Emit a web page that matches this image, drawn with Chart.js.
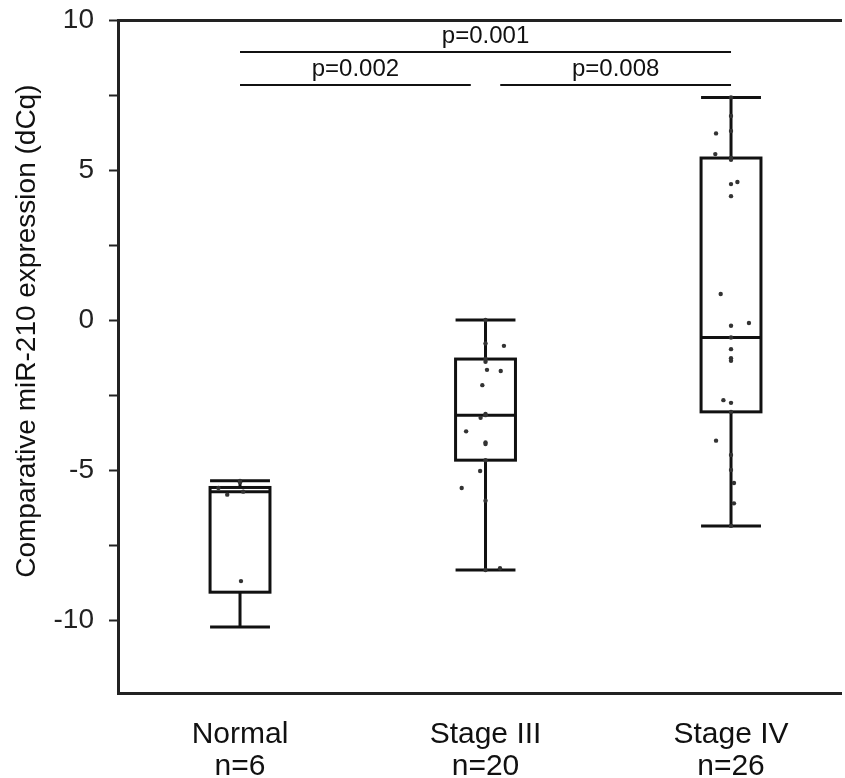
<!DOCTYPE html>
<html>
<head>
<meta charset="utf-8">
<script src="https://cdn.jsdelivr.net/npm/chart.js@4.4.1/dist/chart.umd.min.js"></script>
<style>
  html, body { margin: 0; padding: 0; background: #fff; }
  #wrap { width: 845px; height: 778px; }
</style>
</head>
<body>
<div id="wrap"><canvas id="boxChart" width="845" height="778"></canvas></div>
<script>
// categories and box statistics
const groups = ['Normal', 'Stage III', 'Stage IV'];
const groupN = ['n=6', 'n=20', 'n=26'];
const whiskerLow = [-10.23, -8.33, -6.86];
const q1 = [-9.07, -4.67, -3.06];
const median = [-5.72, -3.17, -0.58];
const q3 = [-5.58, -1.3, 5.4];
const whiskerHigh = [-5.36, 0, 7.42];

// individual samples (y) with small horizontal jitter (x offset from group centre)
const normalY = [-5.36, -5.41, -5.6, -5.72, -5.82, -8.7];
const normalJitter = [0, 0, -0.088, 0.013, -0.052, 0.004];
const stage3Y = [0, -0.78, -0.86, -1.3, -1.39, -1.66, -1.7, -2.17, -3.13, -3.17, -3.26, -3.71,
  -4.08, -4.13, -4.67, -5.03, -5.6, -6.02, -8.27, -8.33];
const stage3Jitter = [0, 0, 0.075, 0, 0, 0.006, 0.062, -0.013, 0, 0, -0.02, -0.079,
  0, 0, 0, -0.022, -0.097, 0, 0.059, 0];
const stage4Y = [7.42, 6.8, 6.3, 6.22, 5.53, 5.34, 4.6, 4.53, 4.13, 0.87, -0.1, -0.19, -0.58,
  -0.97, -1.27, -1.36, -2.67, -2.76, -3.06, -4.02, -4.5, -5.0, -5.43, -6.11, -6.86, 5.4];
const stage4Jitter = [0, 0, 0, -0.061, -0.064, 0, 0.026, 0, 0, -0.042, 0.073, 0, 0,
  0, 0, 0, -0.031, 0, 0, -0.061, 0, 0, 0.012, 0.012, 0, 0];

// significance brackets: from x, to x (category units), y level, label
const bracketFrom = [0, 0, 1.06];
const bracketTo = [2, 0.94, 2];
const bracketY = [8.93, 7.83, 7.83];
const bracketLabel = ['p=0.001', 'p=0.002', 'p=0.008'];

const yTickValues = [-10, -7.5, -5, -2.5, 0, 2.5, 5, 7.5, 10];
const yTitle = 'Comparative miR-210 expression (dCq)';

const FONT = '"Liberation Sans", Arial, sans-serif';

function toPoints(ys, jit, gi) {
  return ys.map((y, i) => ({ x: gi + jit[i], y: y }));
}

const boxPlugin = {
  id: 'boxPlugin',
  beforeDatasetsDraw(chart) {
    const c = chart.ctx, x = chart.scales.x, y = chart.scales.y;
    const half = 0.122;
    c.save();
    c.strokeStyle = '#111';
    c.lineWidth = 3;
    groups.forEach((g, i) => {
      const xl = x.getPixelForValue(i - half), xr = x.getPixelForValue(i + half);
      const xc = x.getPixelForValue(i);
      const yLo = y.getPixelForValue(whiskerLow[i]), yHi = y.getPixelForValue(whiskerHigh[i]);
      const y1 = y.getPixelForValue(q1[i]), y3 = y.getPixelForValue(q3[i]);
      const ym = y.getPixelForValue(median[i]);
      c.beginPath();
      c.moveTo(xc, y3); c.lineTo(xc, yHi);
      c.moveTo(xc, y1); c.lineTo(xc, yLo);
      c.moveTo(xl, yHi); c.lineTo(xr, yHi);
      c.moveTo(xl, yLo); c.lineTo(xr, yLo);
      c.moveTo(xl, ym); c.lineTo(xr, ym);
      c.stroke();
      c.strokeRect(xl, y3, xr - xl, y1 - y3);
    });
    // p-value brackets
    c.lineWidth = 2;
    c.fillStyle = '#111';
    c.font = '24px ' + FONT;
    c.textAlign = 'center';
    c.textBaseline = 'bottom';
    bracketLabel.forEach((lab, i) => {
      const a = x.getPixelForValue(bracketFrom[i]), b = x.getPixelForValue(bracketTo[i]);
      const yy = y.getPixelForValue(bracketY[i]);
      c.beginPath();
      c.moveTo(a, yy); c.lineTo(b, yy);
      c.stroke();
      c.fillText(lab, (a + b) / 2, yy - 4);
    });
    // y axis title
    c.translate(27, y.getPixelForValue(-0.37));
    c.rotate(-Math.PI / 2);
    c.font = '28px ' + FONT;
    c.textBaseline = 'middle';
    c.fillText(yTitle, 0, 0);
    c.restore();
  }
};

const ctx = document.getElementById('boxChart').getContext('2d');
new Chart(ctx, {
  type: 'scatter',
  data: {
    datasets: [
      { data: toPoints(normalY, normalJitter, 0) },
      { data: toPoints(stage3Y, stage3Jitter, 1) },
      { data: toPoints(stage4Y, stage4Jitter, 2) }
    ].map(d => Object.assign(d, {
      pointRadius: 2.2,
      pointBackgroundColor: '#333',
      pointBorderWidth: 0
    }))
  },
  options: {
    responsive: false,
    animation: false,
    layout: { padding: { top: 20, right: 0, left: 0, bottom: 0 } },
    plugins: { legend: { display: false }, tooltip: { enabled: false } },
    scales: {
      x: {
        type: 'linear',
        min: -0.497,
        max: 2.448,
        grid: { display: false },
        border: { display: true, color: '#222', width: 3 },
        afterBuildTicks: s => { s.ticks = groups.map((g, i) => ({ value: i })); },
        afterFit: s => { s.height = 85; s.paddingLeft = 0; s.paddingRight = 0; },
        ticks: {
          padding: 18,
          color: '#111',
          font: { size: 30, family: FONT, lineHeight: 1.07 },
          callback: v => [groups[v], groupN[v]]
        }
      },
      x2: {
        type: 'linear',
        position: 'top',
        min: -0.497,
        max: 2.448,
        grid: { display: false },
        ticks: { display: false },
        border: { display: true, color: '#222', width: 3 },
        afterFit: s => { s.height = 0; }
      },
      y: {
        min: -12.43,
        max: 10,
        afterBuildTicks: s => { s.ticks = yTickValues.map(v => ({ value: v })); },
        afterFit: s => { s.width = 118; s.paddingTop = 0; s.paddingBottom = 0; },
        grid: { drawOnChartArea: false, tickLength: 9, tickWidth: 2, tickColor: '#222' },
        border: { display: true, color: '#222', width: 3 },
        ticks: {
          padding: 15,
          color: '#222',
          font: { size: 28, family: FONT },
          callback: v => (v % 5 === 0 ? v : '')
        }
      }
    }
  },
  plugins: [boxPlugin]
});
</script>
</body>
</html>
